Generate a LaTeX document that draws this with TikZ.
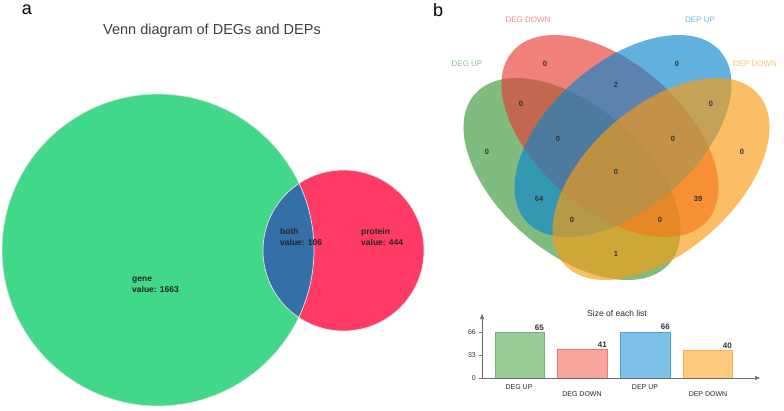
\documentclass[tikz,border=0pt]{standalone}
\usepackage{fontspec}
\setmainfont{Liberation Sans}
\usetikzlibrary{arrows.meta}
\definecolor{vgreen}{RGB}{66,216,138}
\definecolor{vred}{RGB}{255,58,100}
\definecolor{vblue}{RGB}{52,111,168}
\definecolor{egreen}{RGB}{60,152,60}
\definecolor{ered}{RGB}{232,60,51}
\definecolor{eblue}{RGB}{14,134,205}
\definecolor{eorange}{RGB}{250,155,17}
\definecolor{lgreen}{RGB}{140,195,140}
\definecolor{lred}{RGB}{235,140,135}
\definecolor{lblue}{RGB}{110,180,225}
\definecolor{lorange}{RGB}{245,195,120}
\definecolor{bgreen}{RGB}{155,205,155}
\definecolor{bgreenl}{RGB}{115,175,115}
\definecolor{bred}{RGB}{248,165,160}
\definecolor{bredl}{RGB}{235,120,115}
\definecolor{bblue}{RGB}{125,192,232}
\definecolor{bbluel}{RGB}{80,160,215}
\definecolor{borange}{RGB}{252,202,125}
\definecolor{borangel}{RGB}{245,175,80}
\definecolor{axisgray}{RGB}{110,110,110}
\definecolor{titlegray}{RGB}{60,60,60}
\tikzset{
  circlabel/.style={anchor=west, align=left, font=\fontsize{8.5}{10.5}\selectfont\bfseries, text=black!85, inner sep=0pt},
  setlabel/.style={font=\fontsize{8}{9}\selectfont, inner sep=0pt},
  regnum/.style={font=\fontsize{7.5}{8}\selectfont\bfseries, text=black!80, inner sep=0pt},
  vellipse/.style={fill opacity=0.65},
  bar/.style={line width=0.6pt},
  barval/.style={font=\fontsize{8}{9}\selectfont\bfseries, text=black!80, inner sep=0pt, anchor=east},
  barcat/.style={font=\fontsize{7}{8}\selectfont, text=black!85, inner sep=0pt},
  ticklab/.style={font=\fontsize{7}{8}\selectfont, text=black!80, inner sep=0pt, anchor=east},
  panel/.style={font=\fontsize{18}{20}\selectfont, inner sep=0pt}
}
\begin{document}
\begin{tikzpicture}[x=1pt,y=-1pt]
\useasboundingbox (0,0) rectangle (784,410);
% ---------------- panel a ----------------
\node[panel] (pa) at (27,10) {a};
\node[font=\fontsize{14.5}{16}\selectfont, text=titlegray, inner sep=0pt] (title) at (212,31) {Venn diagram of DEGs and DEPs};
\fill[vgreen] (158,250) circle [radius=156pt];
\fill[vred] (343.5,250.5) circle [radius=80.5pt];
\begin{scope}
  \clip (158,250) circle [radius=156pt];
  \fill[vblue] (343.5,250.5) circle [radius=80.5pt];
\end{scope}
\draw[white!80!gray, line width=0.7pt] (158,250) circle [radius=156pt];
\draw[white!80!gray, line width=0.7pt] (343.5,250.5) circle [radius=80.5pt];
\node[circlabel] (gene) at (132,285) {gene\\value: 1663};
\node[circlabel] (both) at (280,237) {both\\value: 106};
\node[circlabel] (prot) at (361,237) {protein\\value: 444};
% ---------------- panel b ----------------
\node[panel] (pb) at (438,10) {b};
\fill[egreen, vellipse, rotate around={-41:(572,179)}] (572,179) ellipse [x radius=129pt, y radius=73pt];
\fill[ered, vellipse, rotate around={-41:(610,136)}] (610,136) ellipse [x radius=129pt, y radius=73pt];
\fill[eblue, vellipse, rotate around={41:(623,136)}] (623,136) ellipse [x radius=129pt, y radius=73pt];
\fill[eorange, vellipse, rotate around={41:(661,179)}] (661,179) ellipse [x radius=129pt, y radius=73pt];
\node[setlabel, text=lred] (ldd) at (528,20) {DEG DOWN};
\node[setlabel, text=lblue] (ldu) at (700,20) {DEP UP};
\node[setlabel, text=lgreen] (lgu) at (467,64) {DEG UP};
\node[setlabel, text=lorange] (lpd) at (755,64) {DEP DOWN};
\node[regnum] (r1) at (545,64) {0};
\node[regnum] (r2) at (677,64) {0};
\node[regnum] (r3) at (616,85) {2};
\node[regnum] (r4) at (521,104) {0};
\node[regnum] (r5) at (711,104) {0};
\node[regnum] (r6) at (487,152) {0};
\node[regnum] (r7) at (742,152) {0};
\node[regnum] (r8) at (558,139) {0};
\node[regnum] (r9) at (673,139) {0};
\node[regnum] (r10) at (616,172) {0};
\node[regnum] (r11) at (539,199) {64};
\node[regnum] (r12) at (698,199) {39};
\node[regnum] (r13) at (572,220) {0};
\node[regnum] (r14) at (660,220) {0};
\node[regnum] (r15) at (616,254) {1};
% bar chart
\node[font=\fontsize{8.5}{10}\selectfont, text=black!85, inner sep=0pt] (btitle) at (617,313) {Size of each list};
\coordinate (orig) at (482,378);
\coordinate (ytop) at (482,314);
\coordinate (xend) at (760,378);
\fill[bgreen] (495,378) rectangle (544,332.7);
\draw[bar, bgreenl] (495,378) -- (495,332.7) -- (544,332.7) -- (544,378);
\fill[bred] (557,378) rectangle (607,349.4);
\draw[bar, bredl] (557,378) -- (557,349.4) -- (607,349.4) -- (607,378);
\fill[bblue] (620,378) rectangle (670,332);
\draw[bar, bbluel] (620,378) -- (620,332) -- (670,332) -- (670,378);
\fill[borange] (683,378) rectangle (732,350.1);
\draw[bar, borangel] (683,378) -- (683,350.1) -- (732,350.1) -- (732,378);
\draw[axisgray, line width=0.6pt, -{Triangle[length=5pt,width=4pt]}] (orig) -- (ytop);
\draw[axisgray, line width=0.6pt, -{Triangle[length=5pt,width=4pt]}] (orig) -- (xend);
\foreach \yy in {332,355,378} \draw[axisgray, line width=0.5pt] (479,\yy) -- (482,\yy);
\node[ticklab] (t66) at (476,332) {66};
\node[ticklab] (t33) at (476,355) {33};
\node[ticklab] (t0) at (476,378) {0};
\node[barval] (v1) at (544,328) {65};
\node[barval] (v2) at (607,345) {41};
\node[barval] (v3) at (670,327) {66};
\node[barval] (v4) at (732,346) {40};
\node[barcat] (c1) at (519,387) {DEG UP};
\node[barcat] (c2) at (582,394) {DEG DOWN};
\node[barcat] (c3) at (645,387) {DEP UP};
\node[barcat] (c4) at (708,394) {DEP DOWN};
\end{tikzpicture}
\end{document}
